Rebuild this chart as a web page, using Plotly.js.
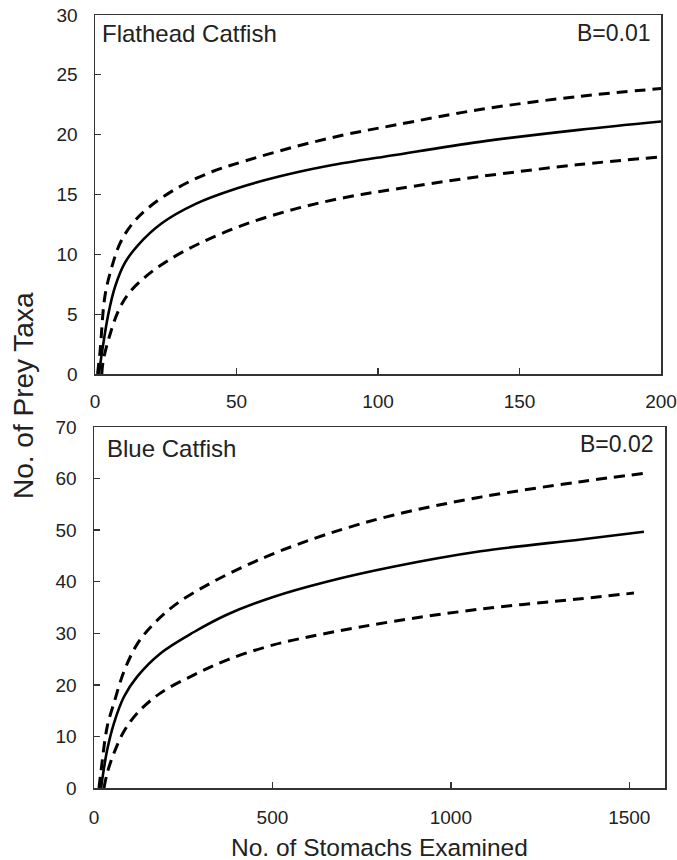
<!DOCTYPE html>
<html>
<head>
<meta charset="utf-8">
<script src="https://cdn.plot.ly/plotly-3.0.1.min.js"></script>
<style>html,body{margin:0;padding:0;background:#fff;}#chart{width:677px;height:860px;}</style>
</head>
<body>
<div id="chart"></div>
<script>
// Flathead Catfish (top panel)
const flatX_mean  = [1.4, 2.4, 4.7, 7.1, 10.6, 15.3, 23.6, 35.4, 50, 65, 82.5, 106, 136, 171, 200];
const flatY_mean  = [0, 1.7, 5.0, 7.3, 9.3, 10.8, 12.6, 14.2, 15.5, 16.5, 17.4, 18.3, 19.4, 20.4, 21.1];
const flatX_upper = [0.9, 1.8, 3.5, 5.9, 8.8, 13, 18.9, 29.5, 41.3, 53, 70.8, 88.4, 106, 136, 171, 200];
const flatY_upper = [0, 1.9, 6.5, 8.9, 10.9, 12.5, 13.9, 15.6, 16.9, 17.8, 19.0, 20.0, 20.8, 22.1, 23.2, 23.85];
const flatX_lower = [2.4, 2.9, 5.3, 8.3, 11.8, 17.7, 25.9, 37.7, 53, 70.8, 88.4, 106, 136, 171, 200];
const flatY_lower = [0, 1.1, 3.3, 5.3, 6.7, 8.1, 9.5, 11.0, 12.5, 13.8, 14.75, 15.45, 16.5, 17.5, 18.15];

// Blue Catfish (bottom panel)
const blueX_mean  = [20, 23, 37, 56, 84, 121, 186, 279, 372, 500, 652, 838, 1083, 1364, 1541];
const blueY_mean  = [0, 1.6, 7.4, 12.6, 17.7, 21.6, 26.1, 30.2, 33.6, 37.0, 40.0, 42.9, 45.9, 48.2, 49.7];
const blueX_upper = [14, 19, 37, 56, 84, 121, 168, 233, 326, 419, 512, 652, 838, 1083, 1364, 1541];
const blueY_upper = [0, 2.9, 11.9, 16.5, 22.6, 27.9, 31.9, 35.8, 39.7, 42.9, 45.7, 49.2, 52.9, 56.4, 59.4, 61.0];
const blueX_lower = [28, 37, 56, 84, 121, 186, 279, 372, 500, 652, 838, 1083, 1364, 1513];
const blueY_lower = [0, 2.9, 6.8, 11.0, 14.5, 18.4, 21.9, 24.8, 27.7, 30.0, 32.3, 34.7, 36.7, 37.8];

const xTicksTop = [0, 50, 100, 150, 200];
const yTicksTop = [0, 5, 10, 15, 20, 25, 30];
const xTicksBot = [0, 500, 1000, 1500];
const yTicksBot = [0, 10, 20, 30, 40, 50, 60, 70];

const FONT = '"Liberation Sans", Arial, sans-serif';
const solid = {color: '#000', width: 2.6, shape: 'spline', smoothing: 1};
const dashed = {color: '#000', width: 3, dash: '11px,7px', shape: 'spline', smoothing: 1};

const traces = [
  {x: flatX_upper, y: flatY_upper, mode: 'lines', line: dashed, xaxis: 'x', yaxis: 'y'},
  {x: flatX_mean,  y: flatY_mean,  mode: 'lines', line: solid,  xaxis: 'x', yaxis: 'y'},
  {x: flatX_lower, y: flatY_lower, mode: 'lines', line: dashed, xaxis: 'x', yaxis: 'y'},
  {x: blueX_upper, y: blueY_upper, mode: 'lines', line: dashed, xaxis: 'x2', yaxis: 'y2'},
  {x: blueX_mean,  y: blueY_mean,  mode: 'lines', line: solid,  xaxis: 'x2', yaxis: 'y2'},
  {x: blueX_lower, y: blueY_lower, mode: 'lines', line: dashed, xaxis: 'x2', yaxis: 'y2'}
];

const axBase = {
  showline: true, mirror: true, linecolor: '#333', linewidth: 1.5,
  ticks: 'inside', ticklen: 6, tickwidth: 1.3, tickcolor: '#333',
  showgrid: false, zeroline: false, fixedrange: true,
  tickfont: {family: FONT, size: 19, color: '#222'}
};

const layout = {
  width: 677, height: 860,
  margin: {l: 0, r: 0, t: 0, b: 0},
  paper_bgcolor: '#fff', plot_bgcolor: '#fff',
  showlegend: false,
  xaxis: Object.assign({}, axBase, {domain: [95/677, 661/677], range: [0, 200], tickvals: xTicksTop, ticktext: xTicksTop.map(String), anchor: 'y', ticklabelstandoff: 10}),
  yaxis: Object.assign({}, axBase, {domain: [1 - 374/860, 1 - 15/860], range: [0, 30], tickvals: yTicksTop, ticktext: yTicksTop.map(String), anchor: 'x', ticklabelstandoff: 12}),
  xaxis2: Object.assign({}, axBase, {domain: [94/677, 665/677], range: [0, 1600], tickvals: xTicksBot, ticktext: xTicksBot.map(String), anchor: 'y2', ticklabelstandoff: 12}),
  yaxis2: Object.assign({}, axBase, {domain: [1 - 788/860, 1 - 427/860], range: [0, 70], tickvals: yTicksBot, ticktext: yTicksBot.map(String), anchor: 'x2', ticklabelstandoff: 12}),
  annotations: [
    {text: 'Flathead Catfish', xref: 'paper', yref: 'paper', x: 100/677, y: 1 - 33/860, xanchor: 'left', yanchor: 'middle', showarrow: false, font: {family: FONT, size: 24, color: '#222'}},
    {text: 'B=0.01', xref: 'paper', yref: 'paper', x: 653/677, y: 1 - 33/860, xanchor: 'right', yanchor: 'middle', showarrow: false, font: {family: FONT, size: 23, color: '#222'}},
    {text: 'Blue Catfish', xref: 'paper', yref: 'paper', x: 105/677, y: 1 - 448/860, xanchor: 'left', yanchor: 'middle', showarrow: false, font: {family: FONT, size: 24, color: '#222'}},
    {text: 'B=0.02', xref: 'paper', yref: 'paper', x: 656/677, y: 1 - 444/860, xanchor: 'right', yanchor: 'middle', showarrow: false, font: {family: FONT, size: 23, color: '#222'}},
    {text: 'No. of Prey Taxa', xref: 'paper', yref: 'paper', x: 23/677, y: 1 - 396/860, xanchor: 'center', yanchor: 'middle', textangle: -90, showarrow: false, font: {family: FONT, size: 28, color: '#222'}},
    {text: 'No. of Stomachs Examined', xref: 'paper', yref: 'paper', x: 379/677, y: 1 - 847/860, xanchor: 'center', yanchor: 'middle', showarrow: false, font: {family: FONT, size: 24.5, color: '#222'}}
  ]
};

Plotly.newPlot('chart', traces, layout, {staticPlot: true, displayModeBar: false});
</script>
</body>
</html>
